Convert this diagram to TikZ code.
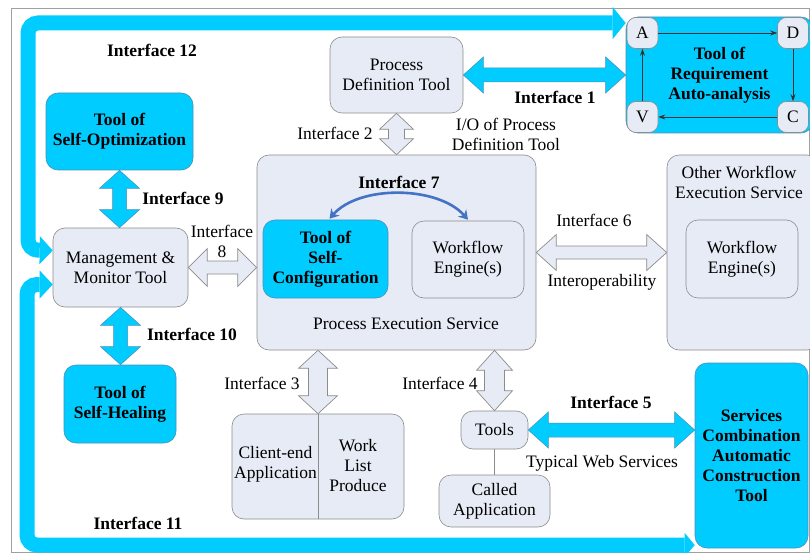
\documentclass[tikz,border=0pt]{standalone}
\usepackage{fontspec}
\setmainfont{Liberation Serif}
\usetikzlibrary{arrows.meta,calc}

\definecolor{cyanfill}{HTML}{00CCFF}
\definecolor{cyanedge}{HTML}{4A90B8}
\definecolor{paleblue}{HTML}{E6EBF5}
\definecolor{boxedge}{HTML}{8C8C8C}
\definecolor{framegray}{HTML}{A0A0A0}
\definecolor{arcblue}{HTML}{4472C4}

% horizontal block double arrow: style, left tip, right tip, shaft half width, head half width, head length
\newcommand\hdarrow[6]{%
  \draw[#1] (#2) -- ++(#6,-#5) -- ++(0,{#5-#4}) -- ($(#3)+(-#6,-#4)$) -- ++(0,{#4-#5})
    -- (#3) -- ++(-#6,#5) -- ++(0,{#4-#5}) -- ($(#2)+(#6,#4)$) -- ++(0,{#5-#4}) -- cycle;}
% vertical block double arrow: style, top tip, bottom tip, shaft half width, head half width, head length
\newcommand\vdarrow[6]{%
  \draw[#1] (#2) -- ++(#5,#6) -- ++({#4-#5},0) -- ($(#3)+(#4,-#6)$) -- ++({#5-#4},0)
    -- (#3) -- ++(-#5,-#6) -- ++({#5-#4},0) -- ($(#2)+(-#4,#6)$) -- ++({#4-#5},0) -- cycle;}

\begin{document}
\begin{tikzpicture}[x=1pt,y=-1pt,
  font=\fontsize{17.5}{20}\selectfont,
  box/.style={draw=boxedge, line width=0.6pt, fill=paleblue, rounded corners=12pt,
    align=center, inner sep=0pt},
  cbox/.style={draw=cyanedge, line width=0.6pt, fill=cyanfill, rounded corners=12pt,
    align=center, inner sep=0pt, font=\fontsize{17.5}{20}\selectfont\bfseries},
  letter/.style={draw=boxedge, line width=0.6pt, fill=paleblue, rounded corners=9pt,
    minimum size=31pt, inner sep=0pt},
  band/.style={draw=cyanfill, line width=15pt, rounded corners=10pt},
  hollow/.style={draw=boxedge, line width=0.7pt, fill=paleblue, line join=miter},
  cyanarrow/.style={draw=cyanedge, line width=0.5pt, fill=cyanfill},
  cyclearrow/.style={draw=black!80, line width=0.8pt, -{Stealth[length=7pt,width=5pt]}},
  lbl/.style={align=center, inner sep=0pt},
  blbl/.style={align=center, inner sep=0pt, font=\fontsize{17.5}{20}\selectfont\bfseries},
]
\useasboundingbox (0,0) rectangle (810,553);
\clip (0,0) rectangle (810,553);

% outer frame
\draw[framegray, line width=0.8pt] (11,8) rectangle (809,552);

% ---- main boxes ----
\node[box, minimum width=133pt, minimum height=76pt] (pdt) at (396.5,75) {Process\\Definition Tool};
\node[cbox, minimum width=187pt, minimum height=116pt] (req) at (719.5,75) {Tool of\\Requirement\\Auto-analysis};
\node[cbox, minimum width=147pt, minimum height=77pt] (opt) at (119.5,131.5) {Tool of\\Self-Optimization};
\node[box, minimum width=135pt, minimum height=79pt] (mm) at (120.5,267.5) {Management \&\\Monitor Tool};
\node[cbox, minimum width=112pt, minimum height=78pt] (heal) at (120,404) {Tool of\\Self-Healing};
\node[box, minimum width=279pt, minimum height=195pt] (pes) at (396.5,252.5) {};
\node[cbox, minimum width=125pt, minimum height=78pt] (cfg) at (325.5,259) {Tool of\\Self-\\Configuration};
\node[box, minimum width=112pt, minimum height=77pt] (we1) at (468,259.5) {Workflow\\Engine(s)};
\node[box, minimum width=152pt, minimum height=195pt] (ows) at (743,252.5) {};
\node[box, minimum width=112pt, minimum height=78pt] (we2) at (742,259) {Workflow\\Engine(s)};
\node[box, minimum width=172pt, minimum height=105pt] (ce) at (318,466.5) {};
\node[box, minimum width=67pt, minimum height=38pt] (tools) at (494.5,430) {Tools};
\node[box, minimum width=111pt, minimum height=52pt] (ca) at (494.5,501) {Called\\Application};
\node[cbox, minimum width=113pt, minimum height=185pt] (sca) at (751.5,455.5)
  {Services\\Combination\\Automatic\\Construction\\Tool};

% texts inside the container boxes
\node[lbl] (pestext) at (406,324) {Process Execution Service};
\node[lbl] (owstext) at (739,182) {Other Workflow\\Execution Service};
\draw[boxedge, line width=0.6pt] (ce.north) -- (ce.south);
\node[lbl] (cetext) at (275.5,464) {Client-end\\Application};
\node[lbl] (wltext) at (358,466) {Work\\List\\Produce};
\draw[boxedge, line width=0.6pt] (tools.south) -- (ca.north);

% ---- Interface 11 and 12 bands ----
\coordinate (i12s) at ($(mm.west)+(0,-17)$);
\coordinate (i12a) at (28,250);
\coordinate (i12b) at (28,23);
\coordinate (i12e) at (req.west |- i12b);
\draw[band, {Triangle[width=28pt,length=13pt,line width=0pt]}-{Triangle[width=32pt,length=13pt,line width=0pt]}]
  (i12s) -- (i12a) -- (i12b) -- (i12e);
\coordinate (i11s) at ($(mm.west)+(0,17)$);
\coordinate (i11a) at (27,284.5);
\coordinate (i11b) at (27,545);
\coordinate (i11e) at (sca.west |- i11b);
\draw[band, {Triangle[width=28pt,length=13pt,line width=0pt]}-{Triangle[width=24pt,length=10pt,line width=0pt]}]
  (i11s) -- (i11a) -- (i11b) -- (i11e);

% ---- requirement cycle ----
\node[letter] (A) at (642.5,33) {A};
\node[letter] (D) at (793,33) {D};
\node[letter] (C) at (793,117) {C};
\node[letter] (V) at (642.5,117) {V};
\draw[cyclearrow] (A) -- (D);
\draw[cyclearrow] (D) -- (C);
\draw[cyclearrow] (C) -- (V);
\draw[cyclearrow] (V) -- (A);

% ---- solid cyan interfaces ----
\hdarrow{cyanarrow}{pdt.east}{req.west |- pdt.east}{7}{18}{20}
\hdarrow{cyanarrow}{tools.east}{sca.west |- tools.east}{7}{18}{20}
\vdarrow{cyanarrow}{opt.south}{opt.south |- mm.north}{7}{20}{18}
\vdarrow{cyanarrow}{mm.south}{mm.south |- heal.north}{7}{20}{18}

% ---- hollow interfaces ----
\vdarrow{hollow}{pdt.south}{pdt.south |- pes.north}{8}{17}{16}
\vdarrow{hollow}{ce.north |- pes.south}{ce.north}{9.5}{19.5}{18}
\vdarrow{hollow}{tools.north |- pes.south}{tools.north}{10}{18}{20}
\hdarrow{hollow}{pes.east}{ows.west |- pes.east}{6.5}{18}{20}
\hdarrow{hollow}{mm.east}{pes.west |- mm.east}{6.5}{19}{19}

% ---- Interface 7 ----
\draw[arcblue, line width=2.6pt, {Stealth[length=9pt,width=11pt]}-{Stealth[length=9pt,width=11pt]}]
  ($(cfg.north)+(4,-1)$) .. controls ($(cfg.north)+(34,-35)$) and ($(we1.north)+(-30,-35)$) .. ($(we1.north)+(0,-1)$);

% ---- labels ----
\node[blbl] (l12) at (152,50) {Interface 12};
\node[blbl] (l1) at (555,97) {Interface 1};
\node[lbl] (l2) at (335,133) {Interface 2};
\node[lbl] (lio) at (506,134) {I/O of Process\\Definition Tool};
\node[blbl] (l9) at (183,198) {Interface 9};
\node[blbl] (l10) at (192,334) {Interface 10};
\node[lbl] (l8) at (222,241.5) {Interface\\8};
\node[blbl] (l7) at (399,182) {Interface 7};
\node[lbl] (l6) at (594,220) {Interface 6};
\node[lbl] (lio6) at (602,282) {Interoperability};
\node[lbl] (l3) at (262,383) {Interface 3};
\node[lbl] (l4) at (440,383) {Interface 4};
\node[blbl] (l5) at (611,402) {Interface 5};
\node[lbl] (lws) at (602,463) {Typical Web Services};
\node[blbl] (l11) at (138,523) {Interface 11};
\end{tikzpicture}
\end{document}
